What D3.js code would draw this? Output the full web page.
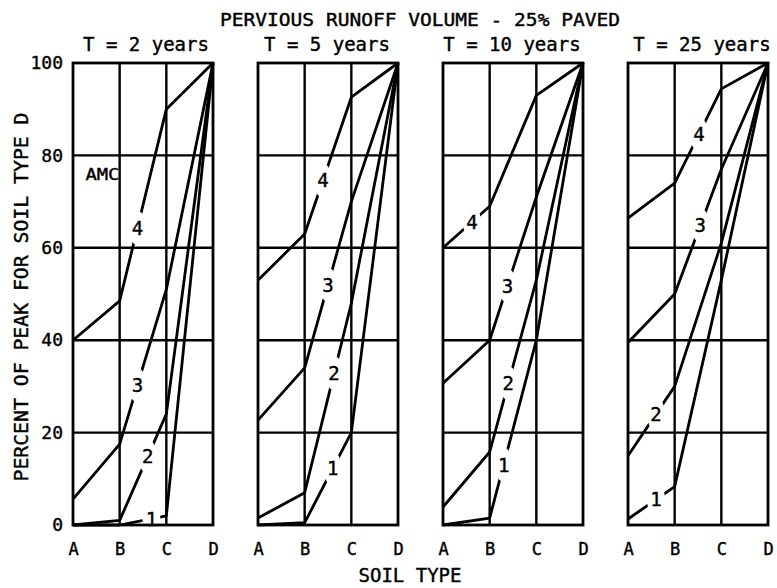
<!DOCTYPE html>
<html>
<head>
<meta charset="utf-8">
<script src="https://cdn.jsdelivr.net/npm/d3@7"></script>
<style>
  body { margin: 0; background: #fff; }
  text { font-family: 'DejaVu Sans Mono', monospace; fill: #000; stroke: #000; stroke-width: 0.4px; }
</style>
</head>
<body>
<script>
// soil groups on the x axis, one panel per return period
const soilTypes = ['A', 'B', 'C', 'D']
const periods = ['T = 2 years', 'T = 5 years', 'T = 10 years', 'T = 25 years']
const amcClasses = ['1', '2', '3', '4']
const yTicks = [0, 20, 40, 60, 80, 100]

// percent of peak for soil type D, one row per AMC class (1..4)
const t2 = [[0, 0, 2, 100], [0, 1, 24, 100], [5.6, 17.5, 51, 100], [40, 48.5, 90, 100]]
const t5 = [[0, 0.5, 20, 100], [1.5, 7, 48, 100], [22.7, 34, 70, 100], [53, 63, 92.6, 100]]
const t10 = [[0, 1.5, 40, 100], [3.9, 15.8, 53, 100], [30.7, 40, 71, 100], [60, 69, 93, 100]]
const t25 = [[1.3, 8.3, 53, 100], [15, 30, 61, 100], [39.5, 50, 77, 100], [66.4, 74, 94.4, 100]]
const panelData = [t2, t5, t10, t25]

// where the AMC number sits on each curve: [segment index, fraction along it]
const labelAt = [
  [[1, 0.68], [1, 0.6], [1, 0.38], [1, 0.38]],
  [[1, 0.6], [1, 0.63], [1, 0.5], [1, 0.39]],
  [[1, 0.3], [1, 0.4], [1, 0.38], [0, 0.62]],
  [[0, 0.6], [0, 0.6], [1, 0.55], [1, 0.52]]
]

const W = 777, H = 588

const svg = d3.select('body').append('svg')
  .attr('width', W)
  .attr('height', H)

svg.append('rect').attr('width', W).attr('height', H).attr('fill', '#fff')

const panelX = d3.scaleBand()
  .domain(periods)
  .range([73, 768])
  .paddingInner(45 / 185)
  .paddingOuter(0)

const x = d3.scalePoint().domain(soilTypes).range([0, panelX.bandwidth()])
const y = d3.scaleLinear().domain([0, 100]).range([525, 63])

const line = d3.line()
  .x((d, i) => x(soilTypes[i]))
  .y(d => y(d))

const defs = svg.append('defs')

periods.forEach((p, pi) => {
  const g = svg.append('g').attr('transform', `translate(${panelX(p)},0)`)
  const rows = panelData[pi]

  // label positions along the curves
  const labels = rows.map((vals, ai) => {
    const [k, t] = labelAt[pi][ai]
    const x0 = x(soilTypes[k]), x1 = x(soilTypes[k + 1])
    const y0 = y(vals[k]), y1 = y(vals[k + 1])
    return { name: amcClasses[ai], x: x0 + t * (x1 - x0), y: y0 + t * (y1 - y0) }
  })

  // mask that cuts a gap in each curve for its number
  const mask = defs.append('mask')
    .attr('id', 'gap' + pi)
    .attr('maskUnits', 'userSpaceOnUse')
    .attr('x', -50).attr('y', 0).attr('width', 300).attr('height', H)
  mask.append('rect')
    .attr('x', -50).attr('y', 0).attr('width', 300).attr('height', H)
    .attr('fill', '#fff')
  mask.selectAll('ellipse')
    .data(labels)
    .join('ellipse')
    .attr('cx', d => d.x)
    .attr('cy', d => d.y)
    .attr('rx', 9)
    .attr('ry', 17)
    .attr('fill', '#000')

  // grid
  g.selectAll('line.h')
    .data(yTicks.slice(1, -1))
    .join('line')
    .attr('class', 'h')
    .attr('x1', 0).attr('x2', panelX.bandwidth())
    .attr('y1', d => y(d)).attr('y2', d => y(d))
    .attr('stroke', '#000').attr('stroke-width', 2.4)

  g.selectAll('line.v')
    .data(soilTypes.slice(1, -1))
    .join('line')
    .attr('class', 'v')
    .attr('x1', d => x(d)).attr('x2', d => x(d))
    .attr('y1', y(0)).attr('y2', y(100))
    .attr('stroke', '#000').attr('stroke-width', 2.4)

  g.append('rect')
    .attr('x', 0).attr('y', y(100))
    .attr('width', panelX.bandwidth())
    .attr('height', y(0) - y(100))
    .attr('fill', 'none')
    .attr('stroke', '#000')
    .attr('stroke-width', 2.8)

  // curves
  g.append('g')
    .attr('mask', `url(#gap${pi})`)
    .selectAll('path')
    .data(rows)
    .join('path')
    .attr('d', line)
    .attr('fill', 'none')
    .attr('stroke', '#000')
    .attr('stroke-width', 2.8)
    .attr('stroke-linejoin', 'round')

  g.selectAll('text.amc')
    .data(labels)
    .join('text')
    .attr('class', 'amc')
    .attr('x', d => d.x)
    .attr('y', d => d.y)
    .attr('dy', '0.36em')
    .attr('text-anchor', 'middle')
    .attr('font-size', 19)
    .text(d => d.name)

  // x axis letters
  const xAxis = d3.axisBottom(x).tickSize(0).tickPadding(18)
  const gx = g.append('g').attr('transform', `translate(0,${y(0)})`).call(xAxis)
  gx.select('.domain').remove()
  gx.selectAll('text')
    .attr('font-family', "'DejaVu Sans Mono', monospace")
    .attr('font-size', 17)

  // panel title
  g.append('text')
    .attr('x', panelX.bandwidth() / 2 + (pi === 3 ? 4 : (pi === 0 ? 3 : -1)))
    .attr('y', 51)
    .attr('text-anchor', 'middle')
    .attr('font-size', 19)
    .text(p)

  if (pi === 0) {
    const yAxis = d3.axisLeft(y).tickValues(yTicks).tickSize(0).tickPadding(10)
    const gy = g.append('g').call(yAxis)
    gy.select('.domain').remove()
    gy.selectAll('text')
      .attr('font-family', "'DejaVu Sans Mono', monospace")
      .attr('font-size', 18)

    g.append('text')
      .attr('x', x('A') + x.step() * 0.63)
      .attr('y', y(76))
      .attr('dy', '0.36em')
      .attr('text-anchor', 'middle')
      .attr('font-family', "'Liberation Sans', sans-serif")
      .attr('font-size', 16)
      .attr('textLength', 34)
      .attr('lengthAdjust', 'spacingAndGlyphs')
      .text('AMC')
  }
})

// titles
svg.append('text')
  .attr('x', 420)
  .attr('y', 26)
  .attr('text-anchor', 'middle')
  .attr('font-size', 18)
  .attr('textLength', 400)
  .attr('lengthAdjust', 'spacingAndGlyphs')
  .text('PERVIOUS RUNOFF VOLUME - 25% PAVED')

svg.append('text')
  .attr('x', 410)
  .attr('y', 582)
  .attr('text-anchor', 'middle')
  .attr('font-size', 19)
  .text('SOIL TYPE')

svg.append('text')
  .attr('transform', 'translate(28,297) rotate(-90)')
  .attr('text-anchor', 'middle')
  .attr('font-size', 19)
  .attr('textLength', 369)
  .attr('lengthAdjust', 'spacingAndGlyphs')
  .text('PERCENT OF PEAK FOR SOIL TYPE D')
</script>
</body>
</html>
